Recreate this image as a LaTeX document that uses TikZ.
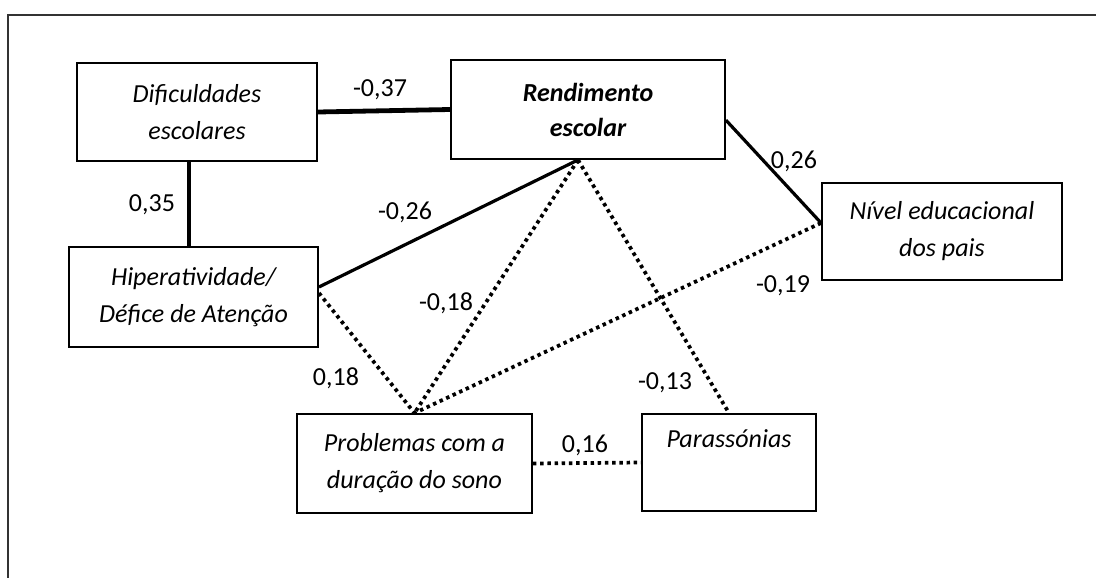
\documentclass[tikz,border=0pt]{standalone}
\usepackage{fontspec}
\setmainfont{Carlito}
\usetikzlibrary{positioning}

\begin{document}
\begin{tikzpicture}[x=0.75pt, y=-0.75pt,
  every node/.style={font=\fontsize{19.5}{27.75}\selectfont},
  var/.style={draw, line width=1.4pt, align=center, inner sep=0pt, font=\fontsize{19.5}{27.75}\selectfont\itshape},
  strong/.style={line width=3.6pt},
  firm/.style={line width=2.4pt},
  weak/.style={line width=2.8pt, dash pattern=on 2.6pt off 2.8pt}]

\useasboundingbox (0,0) rectangle (1096,578);

% Frame
\draw[line width=1.4pt, black!80] (8,578) -- (8,15) -- (1096,15);

% Variables
\node[var, minimum width=180pt, minimum height=73.5pt] at (197,112) (dif) {Dificuldades\\escolares};
\node[var, minimum width=205.5pt, minimum height=74.25pt, font=\fontsize{19.5}{26.25}\selectfont\bfseries\itshape] at (588,109.5) (rend) {Rendimento\\escolar};
\node[var, minimum width=186.75pt, minimum height=75pt] at (193.5,297) (hiper) {Hiperatividade/\\Défice de Atenção};
\node[var, minimum width=180pt, minimum height=72.75pt] at (942,231.5) (nivel) {Nível educacional\\dos pais};
\node[var, minimum width=176.25pt, minimum height=74.25pt] at (414.5,463.5) (prob) {Problemas com a\\duração do sono};
\node[var, minimum width=130.5pt, minimum height=72.75pt] at (729,462.5) (paras) {Parassónias\\\strut};

% Connections
\coordinate (rb) at ([xshift=-7.5pt]rend.south);
\draw[strong] (dif.east) -- (rend.west);
\draw[strong] ([xshift=-6pt]dif.south) -- ([xshift=-6pt]dif.south |- hiper.north);
\draw[firm] ([yshift=7.5pt]hiper.east) -- (rb);
\draw[firm] ([yshift=-8pt]rend.east) -- ([yshift=6.4pt]nivel.west);
\draw[weak] ([yshift=3pt]hiper.east) -- (prob.north);
\draw[weak] (rb) -- (prob.north);
\draw[weak] (rb) -- (paras.north);
\draw[weak] ([yshift=6.4pt]nivel.west) -- (prob.north);
\draw[weak] (prob.east) -- (paras.west);

% Coefficients
\node at (380,90) (c37) {-0,37};
\node at (152,205) (c35) {0,35};
\node at (405,212) (c26a) {-0,26};
\node at (794,161) (c26b) {0,26};
\node at (783,286) (c19) {-0,19};
\node at (446,303) (c18a) {-0,18};
\node at (336,378) (c18b) {0,18};
\node at (665,383) (c13) {-0,13};
\node at (585,445) (c16) {0,16};

\end{tikzpicture}
\end{document}
